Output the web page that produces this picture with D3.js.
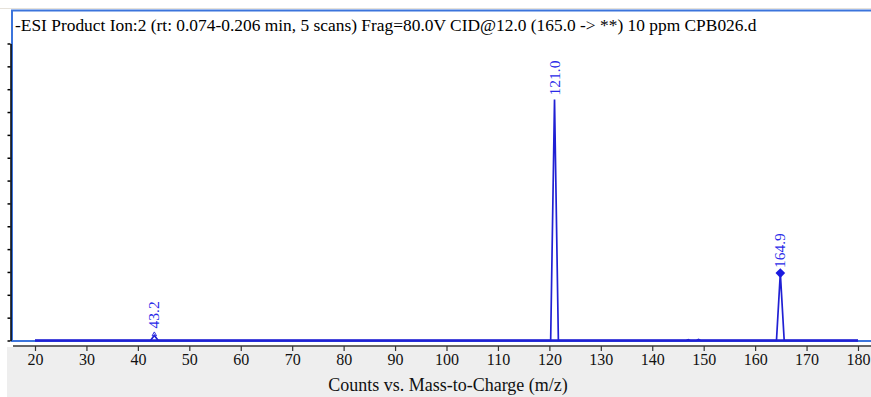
<!DOCTYPE html>
<html><head><meta charset="utf-8">
<script src="https://cdn.jsdelivr.net/npm/d3@7"></script>
<style>
html,body{margin:0;padding:0;background:#fff;}
svg{display:block;}
svg text{font-family:"Liberation Serif","Times New Roman",serif !important;}
</style></head>
<body><svg id="chart" width="871" height="397"></svg>
<script>
// ---- data ----
const titleText = "-ESI Product Ion:2 (rt: 0.074-0.206 min, 5 scans) Frag=80.0V CID@12.0 (165.0 -> **) 10 ppm CPB026.d";
const xTitle = "Counts vs. Mass-to-Charge (m/z)";
const xTicks = [20,30,40,50,60,70,80,90,100,110,120,130,140,150,160,170,180];
const yTicks = [0,1,2,3,4,5,6,7,8,9,10,11,12,13];
// profile trace (m/z, relative counts in y-tick units)
const traceMz     = [20, 42.45, 43.2, 43.95, 120.25, 121.0, 121.75, 146.6, 147.0, 147.4, 148.6, 149.0, 149.4, 164.15, 164.9, 165.65, 180];
const traceCounts = [0,  0,     0.22, 0,     0,      10.55, 0,      0,     0.04,  0,     0,     0.05,  0,     0,      2.95,  0,      0];
// labelled peaks
const peakMz     = [43.2, 121.0, 164.9];
const peakCounts = [0.22, 10.55, 2.95];
const peakLabels = ["43.2", "121.0", "164.9"];
const peakMarker = ["triangle", "none", "diamond"];

const svg = d3.select("#chart");
const W = 871, H = 397;
const x = d3.scaleLinear().domain([20,180]).range([35,858]);
const y = d3.scaleLinear().domain([0,13]).range([340.5,43.5]);
const serif = "'Liberation Serif','Times New Roman',serif";

// gray band below axis
svg.append("rect").attr("x",7).attr("y",347).attr("width",W-7).attr("height",H-347).attr("fill","#eeeeee");
// thin light line at top
svg.append("line").attr("x1",0).attr("x2",W).attr("y1",8.5).attr("y2",8.5).attr("stroke","#e6e2da").attr("stroke-width",1);

// plot frame (blue)
svg.append("rect").attr("x",12).attr("y",10.5).attr("width",W+10).attr("height",330.5)
  .attr("fill","#fff").attr("stroke","#3b74dc").attr("stroke-width",2);

// title
svg.append("text").attr("x",15).attr("y",31).attr("font-size",17.4).attr("font-family",serif).attr("fill","#000").text(titleText);

// y axis (no labels)
const yAx = svg.append("g").attr("transform","translate(10.5,0)")
  .call(d3.axisLeft(y).tickValues(yTicks).tickSize(3).tickSizeOuter(0).tickFormat(""));
yAx.select(".domain").attr("stroke","#000").attr("stroke-width",1.5);
yAx.selectAll(".tick line").attr("stroke","#000").attr("stroke-width",1.5);

// x axis
const xAx = svg.append("g").attr("transform","translate(0,346)")
  .call(d3.axisBottom(x).tickValues(xTicks).tickSize(5).tickSizeOuter(0));
xAx.attr("font-family",serif).attr("font-size",16);
xAx.select(".domain").remove();
xAx.append("line").attr("x1",13).attr("x2",W).attr("y1",0).attr("y2",0).attr("stroke","#333").attr("stroke-width",1.5);
xAx.selectAll(".tick line").attr("stroke","#333").attr("stroke-width",1.2);
xAx.selectAll(".tick text").attr("font-size",16).attr("fill","#111").attr("font-family",serif);

// x title
svg.append("text").attr("x",448).attr("y",391).attr("text-anchor","middle").attr("font-size",18).attr("font-family",serif).attr("fill","#111").text(xTitle);

// trace
const pts = traceMz.map((m,i)=>[m, traceCounts[i]]);
const line = d3.line().x(d=>x(d[0])).y(d=>y(d[1]));
svg.append("path").datum(pts).attr("d",line).attr("fill","none")
  .attr("stroke","#2020d4").attr("stroke-width",1.7).attr("stroke-linejoin","miter");
// thicker baseline
svg.append("line").attr("x1",x(20)).attr("x2",x(180)).attr("y1",y(0)).attr("y2",y(0))
  .attr("stroke","#2020d4").attr("stroke-width",2.6);

// markers and labels
const labelGap = [7, 4, 5];
peakMz.forEach((m,i)=>{
  const px = x(m), py = y(peakCounts[i]);
  if (peakMarker[i]==="diamond") {
    svg.append("path").attr("d", d3.symbol().type(d3.symbolDiamond2).size(60)()).attr("transform",`translate(${px},${py})`).attr("fill","#1a1ae0");
  } else if (peakMarker[i]==="triangle") {
    svg.append("path").attr("d", d3.symbol().type(d3.symbolTriangle2).size(14)()).attr("transform",`translate(${px},${py-1})`).attr("fill","none").attr("stroke","#2a2ae0").attr("stroke-width",1);
  }
  svg.append("text").attr("transform",`translate(${px+5},${py-labelGap[i]}) rotate(-90)`)
    .attr("font-size",15.5).attr("font-family",serif).attr("fill","#2a2ae8").text(peakLabels[i]);
});
</script></body></html>
